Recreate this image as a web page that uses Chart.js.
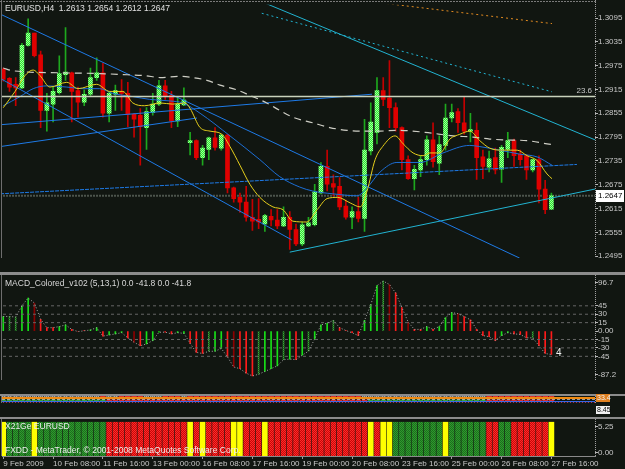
<!DOCTYPE html>
<html><head><meta charset="utf-8"><title>EURUSD,H4</title>
<script src="https://cdn.jsdelivr.net/npm/chart.js@4.4.1/dist/chart.umd.min.js"></script>
<style>
html,body{margin:0;padding:0;width:625px;height:469px;background:#111611;overflow:hidden;position:relative}
canvas{position:absolute;left:0;display:block}
</style></head><body>
<canvas id="cMain" width="625" height="272" style="top:0px"></canvas>
<canvas id="cMacd" width="625" height="122" style="top:272px"></canvas>
<canvas id="cInd" width="625" height="23" style="top:394px"></canvas>
<canvas id="cBars" width="625" height="52" style="top:417px"></canvas>
<script>
// ---------------- DATA ----------------
const timeLabels = ['9 Feb 2009','10 Feb 08:00','11 Feb 16:00','13 Feb 00:00','16 Feb 08:00','17 Feb 16:00','19 Feb 00:00','20 Feb 08:00','23 Feb 16:00','25 Feb 00:00','26 Feb 08:00','27 Feb 16:00'];
const timeLabelBars = [0,8,16,24,32,40,48,56,64,72,80,88];
const priceTicks = [1.3095,1.3035,1.2975,1.2915,1.2855,1.2795,1.2735,1.2675,1.2615,1.2555,1.2495];

const opens = [1.2966,1.2943,1.2928,1.2919,1.3026,1.3057,1.3002,1.2862,1.2878,1.2907,
1.2952,1.2957,1.2912,1.2883,1.2903,1.2945,1.2957,1.2855,1.2903,1.2910,
1.2905,1.2852,1.2850,1.2819,1.2857,1.2878,1.2924,1.2900,1.2836,1.2876,
1.2781,1.2786,1.2743,1.2764,1.2793,1.2767,1.2800,1.2667,1.2643,1.2631,
1.2593,1.2588,1.2576,1.2595,1.2586,1.2571,1.2593,1.2562,1.2526,1.2571,
1.2574,1.2654,1.2721,1.2678,1.2671,1.2621,1.2593,1.2607,1.2590,1.2760,
1.2807,1.2912,1.2893,1.2869,1.2819,1.2738,1.2690,1.2712,1.2738,1.2788,
1.2729,1.2774,1.2843,1.2859,1.2831,1.2810,1.2812,1.2745,1.2719,1.2743,
1.2714,1.2764,1.2786,1.2752,1.2748,1.2712,1.2738,1.2664,1.2613];
const highs = [1.2969,1.2945,1.2945,1.3031,1.3093,1.3057,1.3012,1.2905,1.2921,1.3000,
1.3071,1.2959,1.2921,1.2914,1.2969,1.2995,1.2981,1.2910,1.2926,1.2940,
1.2933,1.2855,1.2867,1.2869,1.2905,1.2938,1.2938,1.2910,1.2897,1.2919,
1.2807,1.2788,1.2774,1.2795,1.2819,1.2802,1.2802,1.2669,1.2654,1.2671,
1.2638,1.2640,1.2600,1.2612,1.2612,1.2619,1.2607,1.2576,1.2581,1.2593,
1.2676,1.2731,1.2762,1.2700,1.2693,1.2636,1.2619,1.2643,1.2840,1.2881,
1.2945,1.2945,1.2988,1.2881,1.2821,1.2748,1.2724,1.2748,1.2798,1.2831,
1.2798,1.2878,1.2878,1.2867,1.2897,1.2855,1.2831,1.2762,1.2760,1.2767,
1.2774,1.2807,1.2790,1.2762,1.2750,1.2740,1.2748,1.2686,1.2654];
const lows = [1.2936,1.2910,1.2874,1.2917,1.3024,1.2997,1.2819,1.2810,1.2833,1.2903,
1.2938,1.2833,1.2845,1.2874,1.2897,1.2938,1.2845,1.2833,1.2862,1.2862,
1.2821,1.2795,1.2724,1.2764,1.2850,1.2874,1.2890,1.2819,1.2821,1.2874,
1.2750,1.2738,1.2724,1.2738,1.2762,1.2762,1.2654,1.2631,1.2605,1.2583,
1.2560,1.2564,1.2557,1.2571,1.2564,1.2569,1.2512,1.2521,1.2521,1.2569,
1.2571,1.2652,1.2659,1.2647,1.2612,1.2588,1.2564,1.2581,1.2557,1.2750,
1.2778,1.2874,1.2819,1.2810,1.2712,1.2688,1.2662,1.2695,1.2724,1.2719,
1.2700,1.2762,1.2833,1.2807,1.2802,1.2783,1.2688,1.2690,1.2707,1.2702,
1.2681,1.2743,1.2721,1.2724,1.2688,1.2707,1.2629,1.2602,1.2612];
const closes = [1.2940,1.2921,1.2919,1.3026,1.3057,1.3000,1.2862,1.2881,1.2910,1.2955,
1.2959,1.2910,1.2883,1.2903,1.2945,1.2957,1.2855,1.2905,1.2912,1.2905,
1.2852,1.2840,1.2821,1.2859,1.2878,1.2924,1.2897,1.2836,1.2878,1.2888,
1.2786,1.2743,1.2767,1.2793,1.2769,1.2800,1.2667,1.2640,1.2631,1.2593,
1.2583,1.2581,1.2597,1.2586,1.2571,1.2593,1.2562,1.2526,1.2574,1.2579,
1.2657,1.2721,1.2676,1.2669,1.2619,1.2593,1.2607,1.2590,1.2762,1.2833,
1.2912,1.2890,1.2869,1.2819,1.2738,1.2690,1.2714,1.2738,1.2788,1.2733,
1.2776,1.2843,1.2857,1.2831,1.2810,1.2814,1.2743,1.2721,1.2740,1.2712,
1.2769,1.2786,1.2748,1.2738,1.2712,1.2738,1.2664,1.2612,1.2647];

// moving averages (bar position, price)
const yellowMaX = [0,1.9,3.5,4.8,5.9,7.5,10.2,12.0,15.0,17.1,19.2,20.8,22.7,25.2,27.2,29.2,30.0,31.6,33.2,35.1,36.4,38.0,39.6,41.2,43.3,44.9,46.5,48.7,50.4,52.0,53.7,55.7,57.3,58.4,59.7,60.9,62.9,64.2,65.8,67.4,68.5,70.1,71.7,73.3,74.9,76.5,78.1,80.2,82.5,84.1,85.7,87.3,88.1];
const yellowMaY = [1.2869,1.2910,1.2950,1.2964,1.2950,1.2921,1.2933,1.2917,1.2928,1.2910,1.2910,1.2881,1.2874,1.2881,1.2878,1.2881,1.2867,1.2819,1.2810,1.2802,1.2771,1.2724,1.2676,1.2643,1.2619,1.2612,1.2583,1.2581,1.2612,1.2640,1.2643,1.2629,1.2619,1.2659,1.2738,1.2771,1.2798,1.2778,1.2755,1.2748,1.2755,1.2755,1.2790,1.2802,1.2810,1.2786,1.2767,1.2762,1.2762,1.2748,1.2736,1.2702,1.2690];
const blueMaX = [0,2.7,4.8,7.0,10.2,12.8,15.5,17.6,20.8,23.5,26.8,28.8,31.6,36.4,41.2,44.4,47.6,49.7,52.9,56.8,58.4,60.5,63.2,66.9,70.6,74.9,76.5,79.7,82.9,85.7,88.1];
const blueMaY = [1.2874,1.2897,1.2917,1.2924,1.2921,1.2917,1.2917,1.2905,1.2897,1.2890,1.2886,1.2881,1.2855,1.2798,1.2738,1.2695,1.2669,1.2659,1.2652,1.2647,1.2667,1.2707,1.2731,1.2731,1.2755,1.2774,1.2771,1.2762,1.2752,1.2745,1.2724];
const slowMaX = [0,1.6,9.1,15.5,19.9,22.7,25.2,28.4,30.4,32.7,34.8,37.5,39.6,42.3,44.4,46.5,49.7,52.4,55.2,57.7,60.5,63.2,67.7,72.2,75.4,78.1,80.2,84.1,87.3,88.1];
const slowMaY = [1.2969,1.2962,1.2957,1.2955,1.2952,1.2950,1.2945,1.2948,1.2945,1.2938,1.2926,1.2914,1.2900,1.2881,1.2862,1.2845,1.2831,1.2819,1.2812,1.2810,1.2810,1.2812,1.2807,1.2798,1.2795,1.2790,1.2788,1.2786,1.2778,1.2776];

// trend lines (bar position, price)
const lineA = [[-0.5,1.3105],[82.9,1.2490]];
const lineB = [[-0.5,1.2943],[46.3,1.2536]];
const lineC = [[-0.5,1.2826],[59.2,1.2903]];
const lineD = [[-0.5,1.2771],[31.1,1.2843]];
const lineE = [[-0.5,1.2652],[92.1,1.2726]];
const lineF = [[46.0,1.2505],[95.0,1.2664]];
const lineG = [[41.5,1.3136],[95.0,1.2788]];
const lineH = [[41.5,1.3107],[88.1,1.2909]];
const lineI = [[59.2,1.3136],[88.1,1.3081]];
const fibLevel = 1.2897;
const lastPrice = 1.2647;

// MACD
const macd = [26,26,25,45,59,50,21,6,6,8,
11,3,-1,0.5,2,6,-9,-7,-5,-3,
-12,-20,-26,-23,-17,-2,-2,-5,-3,-4,
-22,-38,-40,-36,-36,-31,-46,-64,-67,-75,
-80,-77,-72,-67,-62,-51,-50,-51,-43,-36,
-14,11,14,19,6,1,-3,-8,19,47,
81,89,83,68,42,16,3,3,8,3,
8,24,33,31,26,20,3,-8,-10,-17,
-8,-3,-5,-6,-12,-12,-26,-40,-41.8];
const macdColors = "GggGGrRRRG"+"GRrRGGRGGG"+"RrRGGGRRGG"+"RRRgGGRrRR"+"RgGGGgGRGg"+"GGGgRRRRGG"+"GgrRRrRRGR"+"GGGrRRRRRR"+"GGRRRgRRR";
const macdLevels = [45,30,15,-15,-30,-45];
const macdTickValues = [85.9,45,30,15,0,-15,-30,-45,-77.9];
const macdTickLabels = ['96.7','45','30','15','0.00','-15','-30','-45','-87.2'];

// indicator strips
const indTopColors = "gggggggggg"+"ggggggRggR"+"RRRgggRRRg"+"RRRRRRRRRR"+"RRRRRRRRRR"+"RRRRRRRRgg"+"gggggggggg"+"ggggggggRR"+"RRRRRRRRR";
const indBandColors = "GGGGGGGGGG"+"GGGGGGGRRR"+"RRRRRRRRRR"+"RRRRRRRRRR"+"RRRRRRRRRR"+"RRRRRRRRRG"+"GGGGGGGGGG"+"GGGGGGGGRR"+"RRRRRRRRR";
const indLevels = [7.3, 5.5, 2.0, 0.9];
const x21Colors = "YGGGGYGGGG"+"GGGGGGGRRR"+"RRRRRRRRRR"+"YRYRRRRYYR"+"RRYRRRRRRR"+"RRRRRRRRRY"+"RYYGGGGGGG"+"GYGGGGGGRR"+"GGRRRRRRY";
const x21TickValues = [0.865, 0.108];
const x21TickLabels = ['5.25','0.00'];

// ---------------- RENDER ----------------
const FONT = "'Liberation Sans', Arial, sans-serif";
Chart.defaults.font.family = FONT;
Chart.defaults.font.size = 8;
Chart.defaults.color = '#c8c8c8';
Chart.defaults.animation = false;
Chart.defaults.responsive = false;
Chart.defaults.events = [];
Chart.defaults.plugins.legend.display = false;
Chart.defaults.plugins.tooltip.enabled = false;

const X_MIN = -0.2, X_MAX = 95;
const idx = opens.map((_, i) => i);

function pattern(ctx, a, b) {
  const c = document.createElement('canvas'); c.width = 2; c.height = 2;
  const g = c.getContext('2d');
  g.fillStyle = a; g.fillRect(0, 0, 2, 2);
  g.fillStyle = b; g.fillRect(0, 0, 1, 1); g.fillRect(1, 1, 1, 1);
  return ctx.createPattern(c, 'repeat');
}
function xAxis(show) {
  return {
    type: 'linear', min: X_MIN, max: X_MAX, offset: false, display: show,
    grid: { offset: false, drawOnChartArea: false, drawTicks: true, tickLength: 3, color: '#a0a0a0' },
    border: { display: show, color: '#8a8a8a' },
    afterBuildTicks: s => { s.ticks = timeLabelBars.map(v => ({ value: v })); },
    afterFit: s => { s.height = 13; },
    ticks: { autoSkip: false, maxRotation: 0, minRotation: 0, align: 'start', padding: 0, color: '#c8c8c8', font: { size: 8 },
      callback: (v, i) => timeLabels[i] }
  };
}
function yAxis(min, max, vals, labels) {
  return {
    type: 'linear', position: 'right', min, max,
    afterFit: s => { s.width = 30; },
    afterBuildTicks: s => { s.ticks = vals.map(v => ({ value: v })); },
    grid: { drawOnChartArea: false, drawTicks: true, tickLength: 3, color: '#b8b8b8' },
    border: { display: false },
    ticks: { autoSkip: false, padding: 0, color: '#c8c8c8', font: { size: 8 }, callback: (v, i) => labels[i] }
  };
}
function frame(sep) {
  return {
    id: 'frame',
    beforeDraw(chart) {
      const c = chart.ctx; c.save();
      if (sep) { c.fillStyle = '#8c8c8c'; c.fillRect(0, 0, chart.width, sep); }
      c.restore();
    },
    afterDraw(chart) {
      const c = chart.ctx; c.save();
      c.strokeStyle = '#a0a0a0'; c.lineWidth = 1; c.setLineDash([1, 1]);
      c.beginPath(); c.moveTo(595.5, sep || 0); c.lineTo(595.5, chart.chartArea.bottom); c.stroke();
      c.setLineDash([]); c.strokeStyle = '#6e6e6e';
      c.beginPath(); c.moveTo(1.5, sep || 0); c.lineTo(1.5, chart.chartArea.bottom); c.stroke();
      c.restore();
    }
  };
}
function seg(points) { return points.map(p => ({ x: p[0], y: p[1] })); }
function hline(v) { return [{ x: -1, y: v }, { x: 96, y: v }]; }
function xy(xs, ys) { return xs.map((x, i) => ({ x, y: ys[i] })); }
const L = { type: 'line', pointRadius: 0, borderWidth: 1, fill: false, tension: 0 };

// ---- main chart ----
const ctxMain = document.getElementById('cMain').getContext('2d');
const greenBody = pattern(ctxMain, '#2fe82f', '#9cff9c');
const isUp = i => closes[i] >= opens[i];
new Chart(ctxMain, {
  type: 'bar',
  data: { datasets: [
    { ...L, data: hline(fibLevel), borderColor: '#c9d2bc', borderWidth: 1.5, order: 1 },
    { ...L, data: xy(yellowMaX, yellowMaY), borderColor: '#e6cf1c', cubicInterpolationMode: 'monotone', order: 1 },
    { ...L, data: xy(blueMaX, blueMaY), borderColor: '#1d6fd6', cubicInterpolationMode: 'monotone', order: 2 },
    { ...L, data: xy(slowMaX, slowMaY), borderColor: '#cfcfc6', borderWidth: 1.2, borderDash: [7, 5], cubicInterpolationMode: 'monotone', order: 2 },
    { ...L, data: seg(lineA), borderColor: '#1e7ae6', order: 3 },
    { ...L, data: seg(lineB), borderColor: '#1e7ae6', order: 3 },
    { ...L, data: seg(lineC), borderColor: '#1e7ae6', order: 3 },
    { ...L, data: seg(lineD), borderColor: '#1e7ae6', order: 3 },
    { ...L, data: seg(lineE), borderColor: '#1e7ae6', borderDash: [4, 1], order: 3 },
    { ...L, data: seg(lineF), borderColor: '#22b4d2', order: 3 },
    { ...L, data: seg(lineG), borderColor: '#22b4d2', order: 3 },
    { ...L, data: seg(lineH), borderColor: '#22b4d2', borderDash: [2, 3], order: 3 },
    { ...L, data: seg(lineI), borderColor: '#e08a20', borderDash: [2, 3], order: 3 },
    { ...L, data: hline(lastPrice), borderColor: '#4c544c', borderWidth: 2, borderDash: [2, 1], order: 30 },
    { type: 'bar', data: idx.map(i => ({ x: i, y: [opens[i], closes[i]] })),
      backgroundColor: idx.map(i => isUp(i) ? greenBody : '#e00000'),
      grouped: false, categoryPercentage: 1, barPercentage: 1, maxBarThickness: 4, minBarLength: 1, borderWidth: 0, order: 20 },
    { type: 'bar', data: idx.map(i => ({ x: i, y: [lows[i], highs[i]] })),
      backgroundColor: idx.map(i => isUp(i) ? '#1ea81e' : '#c40000'),
      grouped: false, categoryPercentage: 1, barPercentage: 1, maxBarThickness: 1, borderWidth: 0, order: 21 }
  ] },
  options: {
    layout: { padding: { left: 2, right: 0, top: 3, bottom: 1 } },
    scales: { x: xAxis(false), y: yAxis(1.249024, 1.312833, priceTicks, priceTicks.map(v => v.toFixed(4))) }
  },
  plugins: [frame(0), {
    id: 'mainText',
    afterDraw(chart) {
      const c = chart.ctx, y = chart.scales.y; c.save();
      c.strokeStyle = '#7a7a7a'; c.setLineDash([2, 1]); c.beginPath(); c.moveTo(0, 1.5); c.lineTo(596, 1.5); c.stroke(); c.setLineDash([]);
      c.font = '8.5px ' + FONT; c.fillStyle = '#e2e2e2'; c.textBaseline = 'top';
      c.fillText('EURUSD,H4  1.2613 1.2654 1.2612 1.2647', 5, 4);
      const fy = y.getPixelForValue(fibLevel);
      c.font = '8px ' + FONT; c.fillStyle = '#c8c8c8'; c.textAlign = 'right'; c.textBaseline = 'bottom';
      c.fillText('23.6', 592, fy - 2);
      const py = y.getPixelForValue(lastPrice);
      c.fillStyle = '#ffffff'; c.fillRect(596, Math.round(py) - 6, 28, 12);
      c.fillStyle = '#000000'; c.textAlign = 'left'; c.textBaseline = 'middle';
      c.fillText(lastPrice.toFixed(4), 598, Math.round(py));
      c.restore();
    }
  }]
});

// ---- MACD ----
const ctxMacd = document.getElementById('cMacd').getContext('2d');
const macdPal = { G: '#18e018', g: pattern(ctxMacd, '#1a5e1a', '#3aa83a'), R: '#ff1a1a', r: '#8c0000' };
new Chart(ctxMacd, {
  type: 'bar',
  data: { datasets: [
    ...macdLevels.map(v => ({ ...L, data: hline(v), borderColor: '#666666', borderDash: [3, 3], order: 5 })),
    { ...L, data: idx.map(i => ({ x: i, y: macd[i] })), borderColor: '#a8a8a8', borderDash: [1, 2], order: 1 },
    { type: 'bar', data: idx.map(i => ({ x: i, y: macd[i] })),
      backgroundColor: idx.map(i => macdPal[macdColors[i]]),
      grouped: false, categoryPercentage: 1, barPercentage: 1, maxBarThickness: 1, borderWidth: 0, order: 10 }
  ] },
  options: {
    layout: { padding: { left: 2, right: 0, top: 3, bottom: 1 } },
    scales: { x: xAxis(false), y: yAxis(-87.2, 96.7, macdTickValues, macdTickLabels) }
  },
  plugins: [frame(3), {
    id: 'macdText',
    afterDraw(chart) {
      const c = chart.ctx; c.save();
      c.font = '8.5px ' + FONT; c.fillStyle = '#d8d8d8'; c.textBaseline = 'top';
      c.fillText('MACD_Colored_v102 (5,13,1) 0.0 -41.8 0.0 -41.8', 5, 7);
      c.font = '10px ' + FONT; c.fillStyle = '#f0f0f0';
      c.fillText('4', 556, 76);
      c.restore();
    }
  }]
});

// ---- indicator strip ----
const ctxInd = document.getElementById('cInd').getContext('2d');
const topPal = { g: pattern(ctxInd, '#6e6e6e', '#a8a8a8'), R: '#e23030' };
const bandPal = { G: '#3aa03a', R: '#d83030' };
new Chart(ctxInd, {
  type: 'bar',
  data: { datasets: [
    { ...L, data: hline(indLevels[0]), borderColor: '#f08a10', borderWidth: 2, order: 1 },
    { ...L, data: hline(indLevels[1]), borderColor: '#e6e6e6', borderDash: [3, 2], order: 1 },
    { ...L, data: hline(indLevels[2]), borderColor: '#3a70ff', order: 1 },
    { ...L, data: hline(indLevels[3]), borderColor: '#e03030', borderDash: [1, 2], order: 1 },
    { type: 'bar', data: idx.map(i => ({ x: i, y: [8.3, 10] })), backgroundColor: idx.map(i => topPal[indTopColors[i]]),
      grouped: false, categoryPercentage: 1, barPercentage: 1, maxBarThickness: 5, borderWidth: 0, order: 10 },
    { type: 'bar', data: idx.map(i => ({ x: i, y: [2.6, 4.4] })), backgroundColor: idx.map(i => bandPal[indBandColors[i]]),
      grouped: false, categoryPercentage: 1, barPercentage: 1, maxBarThickness: 5, borderWidth: 0, order: 10 }
  ] },
  options: {
    layout: { padding: { left: 2, right: 0, top: 2, bottom: 1 } },
    scales: { x: xAxis(false), y: yAxis(0, 10, [], []) }
  },
  plugins: [frame(2), {
    id: 'indText',
    afterDraw(chart) {
      const c = chart.ctx; c.save();
      c.font = '7px ' + FONT; c.textBaseline = 'middle';
      c.fillStyle = '#e08020'; c.fillRect(596, 0, 14, 8);
      c.fillStyle = '#f0f0f0'; c.fillText('33.4', 597, 4);
      c.fillStyle = '#f0f0f0'; c.fillRect(596, 12, 14, 8);
      c.fillStyle = '#000000'; c.fillText('8.45', 597, 16);
      c.restore();
    }
  }]
});

// ---- X21Ge strip with time axis ----
const ctxBars = document.getElementById('cBars').getContext('2d');
const x21Pal = { R: pattern(ctxBars, '#ff2a2a', '#c80808'), G: pattern(ctxBars, '#1c6e1c', '#2f9a2f'), Y: '#ffff00' };
new Chart(ctxBars, {
  type: 'bar',
  data: { datasets: [
    { type: 'bar', data: idx.map(i => ({ x: i, y: [0, 1] })), backgroundColor: idx.map(i => x21Pal[x21Colors[i]]),
      grouped: false, categoryPercentage: 1, barPercentage: 1, maxBarThickness: 5, borderWidth: 0 }
  ] },
  options: {
    layout: { padding: { left: 2, right: 0, top: 2, bottom: 0 } },
    scales: { x: xAxis(true), y: yAxis(0, 1, x21TickValues, x21TickLabels) }
  },
  plugins: [frame(2), {
    id: 'barsText',
    afterDraw(chart) {
      const c = chart.ctx; c.save();
      c.font = '8.5px ' + FONT; c.fillStyle = '#ececec'; c.textBaseline = 'top';
      c.fillText('X21Ge EURUSD', 5, 5);
      c.fillText('FXDD - MetaTrader, \u00a9 2001-2008 MetaQuotes Software Corp.', 5, 29);
      c.restore();
    }
  }]
});
</script></body></html>
